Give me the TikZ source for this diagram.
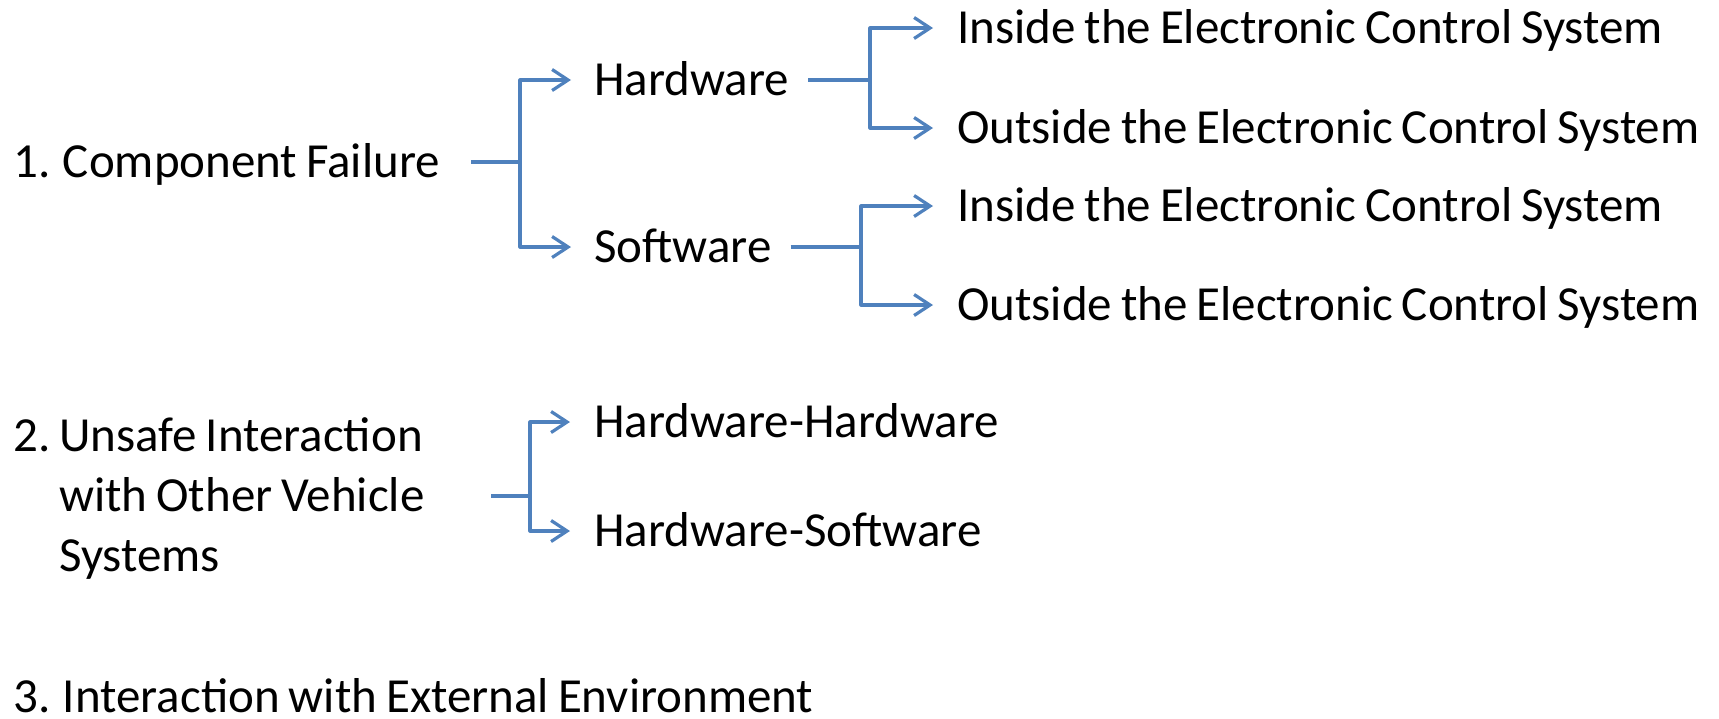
\documentclass[tikz,border=0pt]{standalone}
\usepackage{fontspec}
\setmainfont{Carlito}[WordSpace=0.8]
\usetikzlibrary{arrows.meta}
\definecolor{linkblue}{HTML}{4F81BD}
\begin{document}
\begin{tikzpicture}[x=1pt,y=-1pt,
  lbl/.style={anchor=west,inner sep=0pt,text height=31pt,text depth=0pt,
    font=\fontsize{49}{60}\selectfont},
  conn/.style={draw=linkblue,line width=3.2pt},
  arr/.style={conn,line join=round,-{Straight Barb[length=16pt,width=21pt]}}]
\fill[white] (0,0) rectangle (1719,718);
\useasboundingbox (0,0) rectangle (1719,718);

% level 0
\node[lbl] (cf) at (13,162) {1. Component Failure};
\node[anchor=west,inner sep=0pt,font=\fontsize{49}{60}\selectfont] (ui) at (13,499.5)
  {\begin{tabular}{@{}l@{\ }l@{}}2. & Unsafe Interaction\\ & with Other Vehicle\\ & Systems\end{tabular}};
\node[lbl] (ee) at (13,697) {3. Interaction with External Environment};

% level 1
\node[lbl] (hw) at (594,80) {Hardware};
\node[lbl] (sw) at (594,247) {Software};
\node[lbl] (hh) at (594,422) {Hardware-Hardware};
\node[lbl] (hs) at (594,531) {Hardware-Software};

% level 2
\node[lbl] (hwin)  at (957,28)  {Inside the Electronic Control System};
\node[lbl] (hwout) at (957,128) {Outside the Electronic Control System};
\node[lbl] (swin)  at (957,206) {Inside the Electronic Control System};
\node[lbl] (swout) at (957,305) {Outside the Electronic Control System};

% branch points
\coordinate (j1) at (520,162);
\coordinate (j2) at (870,80);
\coordinate (j3) at (861,247);
\coordinate (j4) at (530,496);

% component failure
\draw[conn] ([xshift=31pt]cf.east) -- (j1);
\draw[arr] (j1) |- ([xshift=-23pt]hw.west);
\draw[arr] (j1) |- ([xshift=-23pt]sw.west);

% hardware
\draw[conn] ([xshift=19pt]hw.east) -- (j2);
\draw[arr] (j2) |- ([xshift=-24pt]hwin.west);
\draw[arr] (j2) |- ([xshift=-24pt]hwout.west);

% software
\draw[conn] ([xshift=19pt]sw.east) -- (j3);
\draw[arr] (j3) |- ([xshift=-24pt]swin.west);
\draw[arr] (j3) |- ([xshift=-24pt]swout.west);

% unsafe interaction
\draw[conn] ([xshift=478pt]ui.west |- j4) -- (j4);
\draw[arr] (j4) |- ([xshift=-24pt]hh.west);
\draw[arr] (j4) |- ([xshift=-24pt]hs.west);
\end{tikzpicture}
\end{document}
